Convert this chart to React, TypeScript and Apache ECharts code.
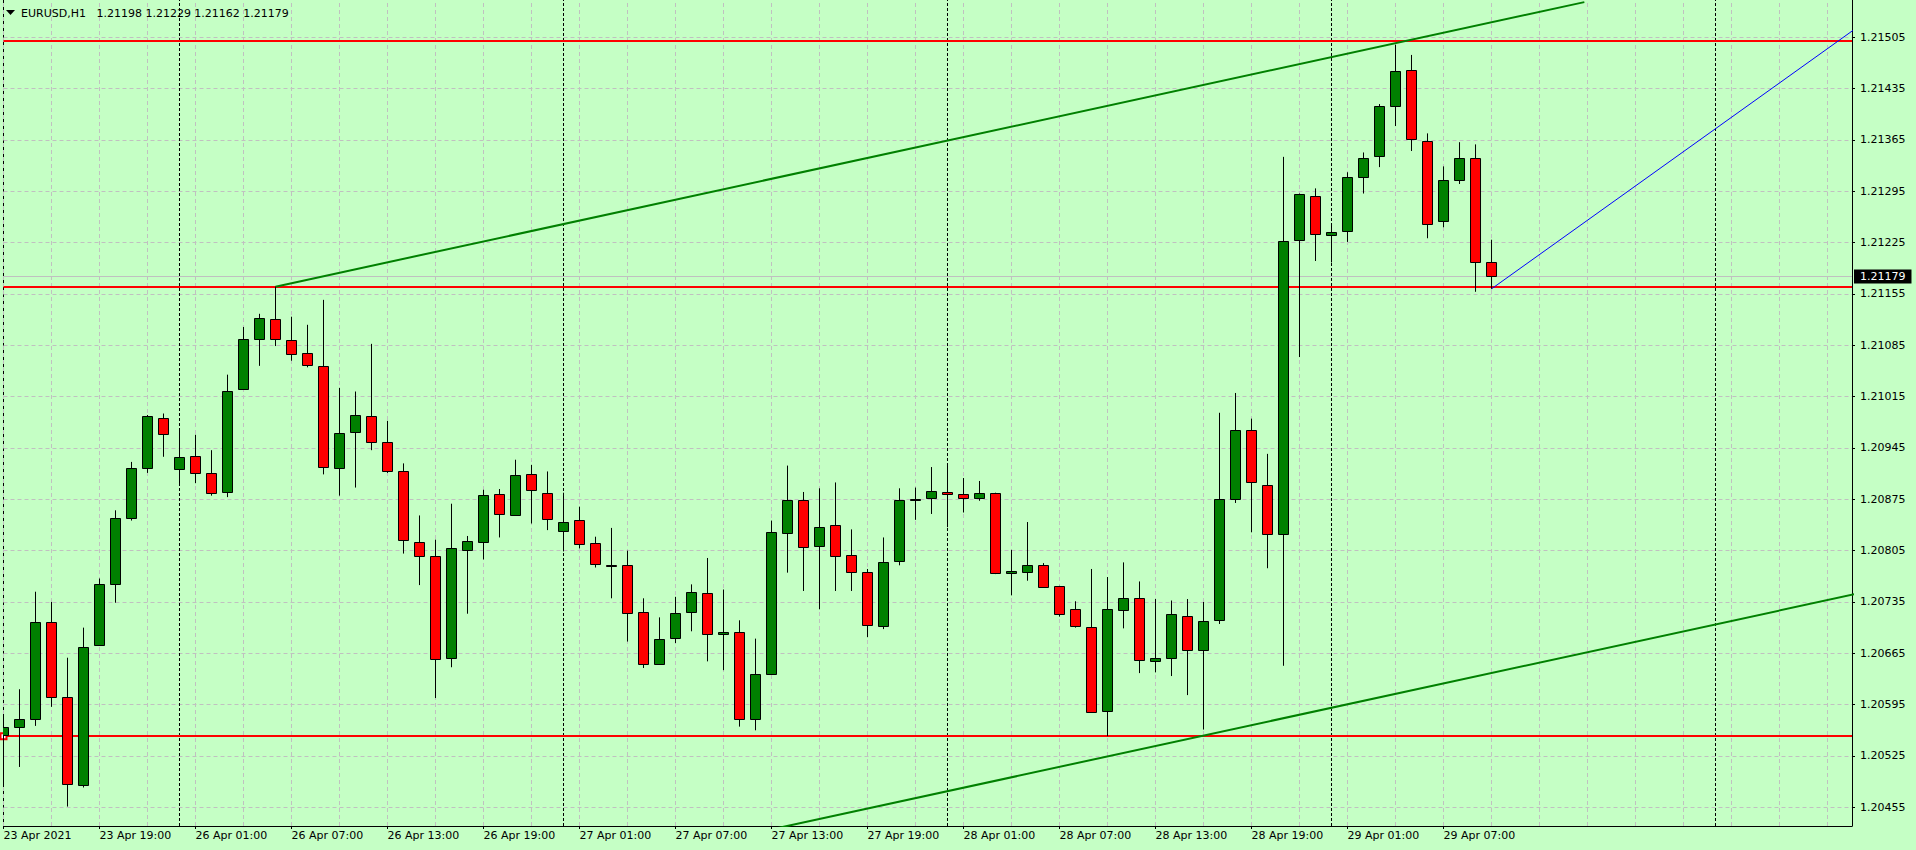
import React, { useEffect, useRef } from "react";
import * as echarts from "echarts";

// ---- Data (EURUSD H1, 23 Apr 2021 13:00 .. 29 Apr 2021 10:00) ----
const opens = [
  1.20553, 1.20565, 1.20576, 1.20708, 1.20606, 1.20486, 1.20677, 1.20760, 1.20850, 1.20918,
  1.20986, 1.20916, 1.20934, 1.20911, 1.20885, 1.21025, 1.21093, 1.21121, 1.21092, 1.21075,
  1.21057, 1.20918, 1.20967, 1.20989, 1.20953, 1.20914, 1.20817, 1.20798, 1.20659, 1.20806,
  1.20817, 1.20882, 1.20854, 1.20910, 1.20884, 1.20832, 1.20847, 1.20815, 1.20786, 1.20785,
  1.20721, 1.20650, 1.20686, 1.20722, 1.20747, 1.20691, 1.20694, 1.20575, 1.20637, 1.20829,
  1.20874, 1.20811, 1.20840, 1.20799, 1.20776, 1.20702, 1.20791, 1.20874, 1.20877, 1.20885,
  1.20882, 1.20877, 1.20884, 1.20775, 1.20776, 1.20786, 1.20757, 1.20725, 1.20701, 1.20586,
  1.20724, 1.20741, 1.20655, 1.20659, 1.20716, 1.20670, 1.20710, 1.20876, 1.20970, 1.20895,
  1.20828, 1.21228, 1.21289, 1.21235, 1.21241, 1.21315, 1.21343, 1.21411, 1.21460, 1.21363,
  1.21254, 1.21311, 1.21340, 1.21198,
];
const highs = [
  1.20580, 1.20616, 1.20749, 1.20735, 1.20659, 1.20700, 1.20767, 1.20860, 1.20926, 1.20990,
  1.20992, 1.20972, 1.20963, 1.20942, 1.21045, 1.21110, 1.21128, 1.21165, 1.21124, 1.21113,
  1.21147, 1.21027, 1.21022, 1.21087, 1.20982, 1.20924, 1.20853, 1.20820, 1.20869, 1.20825,
  1.20888, 1.20889, 1.20929, 1.20922, 1.20913, 1.20884, 1.20865, 1.20824, 1.20836, 1.20805,
  1.20740, 1.20714, 1.20742, 1.20759, 1.20795, 1.20752, 1.20710, 1.20685, 1.20846, 1.20921,
  1.20885, 1.20890, 1.20898, 1.20834, 1.20780, 1.20823, 1.20890, 1.20891, 1.20919, 1.20923,
  1.20904, 1.20900, 1.20884, 1.20806, 1.20844, 1.20788, 1.20757, 1.20736, 1.20780, 1.20769,
  1.20789, 1.20763, 1.20739, 1.20737, 1.20739, 1.20735, 1.20993, 1.21020, 1.20985, 1.20937,
  1.21342, 1.21292, 1.21299, 1.21251, 1.21321, 1.21348, 1.21414, 1.21495, 1.21481, 1.21374,
  1.21329, 1.21362, 1.21359, 1.21229,
];
const lows = [
  1.20483, 1.20510, 1.20566, 1.20592, 1.20456, 1.20482, 1.20677, 1.20734, 1.20846, 1.20911,
  1.20933, 1.20894, 1.20897, 1.20880, 1.20878, 1.21025, 1.21057, 1.21084, 1.21064, 1.21055,
  1.20909, 1.20880, 1.20891, 1.20942, 1.20911, 1.20801, 1.20758, 1.20604, 1.20646, 1.20719,
  1.20793, 1.20823, 1.20854, 1.20842, 1.20833, 1.20804, 1.20808, 1.20782, 1.20740, 1.20681,
  1.20645, 1.20650, 1.20679, 1.20695, 1.20654, 1.20642, 1.20565, 1.20560, 1.20637, 1.20775,
  1.20750, 1.20725, 1.20750, 1.20750, 1.20687, 1.20698, 1.20785, 1.20847, 1.20855, 1.20837,
  1.20857, 1.20873, 1.20773, 1.20744, 1.20764, 1.20755, 1.20715, 1.20700, 1.20585, 1.20552,
  1.20699, 1.20638, 1.20639, 1.20634, 1.20608, 1.20561, 1.20705, 1.20870, 1.20830, 1.20781,
  1.20648, 1.21069, 1.21200, 1.21198, 1.21226, 1.21292, 1.21328, 1.21384, 1.21350, 1.21231,
  1.21246, 1.21305, 1.21158, 1.21162,
];
const closes = [
  1.20564, 1.20575, 1.20708, 1.20606, 1.20487, 1.20674, 1.20759, 1.20850, 1.20918, 1.20989,
  1.20964, 1.20933, 1.20911, 1.20883, 1.21023, 1.21094, 1.21122, 1.21093, 1.21073, 1.21058,
  1.20919, 1.20965, 1.20990, 1.20953, 1.20914, 1.20820, 1.20798, 1.20657, 1.20809, 1.20818,
  1.20881, 1.20855, 1.20908, 1.20888, 1.20848, 1.20844, 1.20814, 1.20787, 1.20785, 1.20720,
  1.20650, 1.20685, 1.20720, 1.20749, 1.20691, 1.20694, 1.20575, 1.20637, 1.20830, 1.20874,
  1.20810, 1.20837, 1.20798, 1.20776, 1.20704, 1.20790, 1.20874, 1.20876, 1.20887, 1.20882,
  1.20877, 1.20884, 1.20775, 1.20777, 1.20786, 1.20755, 1.20719, 1.20702, 1.20585, 1.20725,
  1.20741, 1.20656, 1.20659, 1.20718, 1.20670, 1.20709, 1.20876, 1.20970, 1.20898, 1.20828,
  1.21227, 1.21291, 1.21237, 1.21240, 1.21315, 1.21340, 1.21412, 1.21459, 1.21366, 1.21251,
  1.21311, 1.21340, 1.21199, 1.21179,
];

const timeLabelIndex = [0, 6, 12, 18, 24, 30, 36, 42, 48, 54, 60, 66, 72, 78, 84, 90];
const timeLabels = [
  "23 Apr 2021", "23 Apr 19:00", "26 Apr 01:00", "26 Apr 07:00", "26 Apr 13:00",
  "26 Apr 19:00", "27 Apr 01:00", "27 Apr 07:00", "27 Apr 13:00", "27 Apr 19:00",
  "28 Apr 01:00", "28 Apr 07:00", "28 Apr 13:00", "28 Apr 19:00", "29 Apr 01:00",
  "29 Apr 07:00",
];
const priceTicks = [
  1.20455, 1.20525, 1.20595, 1.20665, 1.20735, 1.20805, 1.20875, 1.20945,
  1.21015, 1.21085, 1.21155, 1.21225, 1.21295, 1.21365, 1.21435, 1.21505,
];
const gridColumns = [
  0, 3, 6, 9, 12, 15, 18, 21, 24, 27, 30, 33, 36, 39, 42, 45, 48, 51, 54, 57,
  60, 63, 66, 69, 72, 75, 78, 81, 84, 87, 90, 93, 96, 99, 102, 105, 108, 111, 114,
];
const daySeparators = [11, 35, 59, 83, 107];
const redLevels = [1.215, 1.21165];
const selectedLevel = 1.20552;
const bidPrice = 1.21179;
const upperChannel = [[17, 1.21165], [98.8, 1.21553]];
const lowerChannel = [[40, 1.20387], [120, 1.20766]];
const projection = [[93, 1.21162], [118, 1.21552]];
const titleText = "EURUSD,H1\u00A0\u00A0 1.21198 1.21229 1.21162 1.21179";

const X_MIN = 0;
const X_MAX = 115.53;
const Y_MIN = 1.204295;
const Y_MAX = 1.215559;

const BG = "#C5FFC5";
const GRID = "#C0C0C0";
const FONT = '"DejaVu Sans", Tahoma, sans-serif';

const candleRows = opens.map((o, i) => [i, o, closes[i], lows[i], highs[i]]);

function renderCandle(params: any, api: any) {
  const x = api.value(0);
  const o = api.value(1);
  const c = api.value(2);
  const l = api.value(3);
  const h = api.value(4);
  const pO = api.coord([x, o]);
  const pC = api.coord([x, c]);
  const pL = api.coord([x, l]);
  const pH = api.coord([x, h]);
  const cx = pO[0];
  const top = Math.round(Math.min(pO[1], pC[1])) + 0.5;
  const bot = Math.round(Math.max(pO[1], pC[1])) + 0.5;
  return {
    type: "group",
    children: [
      {
        type: "line",
        shape: { x1: cx, y1: pH[1], x2: cx, y2: pL[1] },
        style: { stroke: "#000", lineWidth: 1 },
      },
      {
        type: "rect",
        shape: { x: cx - 5, y: top, width: 10, height: Math.max(bot - top, 1) },
        style: { fill: c >= o ? "#008000" : "#FF0000", stroke: "#000", lineWidth: 1 },
      },
    ],
  };
}

export default function App() {
  const ref = useRef<HTMLDivElement>(null);

  useEffect(() => {
    if (!ref.current) return;
    const chart = echarts.init(ref.current, undefined, { renderer: "svg" });
    const textStyle = { color: "#000", fontSize: 11, fontFamily: FONT };
    const option: any = {
      animation: false,
      backgroundColor: BG,
      grid: { left: 3.5, right: 64, top: 0, bottom: 24 },
      graphic: [
        {
          type: "polygon",
          shape: { points: [[6, 10], [15, 10], [10.5, 15]] },
          style: { fill: "#000" },
          z: 100,
        },
        {
          type: "text",
          x: 21,
          y: 13,
          style: {
            text: titleText,
            fill: "#000",
            fontSize: 11,
            fontFamily: FONT,
            verticalAlign: "middle",
          },
          z: 100,
        },
      ],
      xAxis: [
        {
          type: "value",
          min: X_MIN,
          max: X_MAX,
          axisLine: { show: true, onZero: false, lineStyle: { color: "#000", width: 1 } },
          axisTick: {
            show: true,
            length: 3,
            customValues: timeLabelIndex,
            lineStyle: { color: "#000" },
          },
          axisLabel: {
            ...textStyle,
            customValues: timeLabelIndex,
            align: "left",
            margin: 4,
            formatter: (v: number) => {
              const k = timeLabelIndex.indexOf(Math.round(v));
              return k >= 0 ? timeLabels[k] : "";
            },
          },
          splitLine: { show: false },
        },
      ],
      yAxis: [
        {
          type: "value",
          position: "right",
          min: Y_MIN,
          max: Y_MAX,
          axisLine: { show: true, onZero: false, lineStyle: { color: "#000", width: 1 } },
          axisTick: {
            show: true,
            length: 3,
            customValues: priceTicks,
            lineStyle: { color: "#000" },
          },
          axisLabel: {
            ...textStyle,
            customValues: priceTicks,
            margin: 8,
            formatter: (v: number) => v.toFixed(5),
          },
          splitLine: { show: false },
        },
        {
          type: "value",
          position: "left",
          min: Y_MIN,
          max: Y_MAX,
          axisLine: { show: true, onZero: false, lineStyle: { color: "#000", width: 1 } },
          axisTick: { show: false },
          axisLabel: { show: false },
          splitLine: { show: false },
        },
      ],
      series: [
        {
          type: "line",
          name: "grid",
          data: [],
          clip: false,
          silent: true,
          z: 1,
          markLine: {
            silent: true,
            animation: false,
            precision: 6,
            z: 1,
            symbol: ["none", "none"],
            label: { show: false },
            lineStyle: { color: GRID, width: 1, type: [4, 3] },
            data: [
              ...priceTicks.map((v) => ({ yAxis: v })),
              ...gridColumns.map((v) => ({ xAxis: v })),
            ],
          },
        },
        {
          type: "line",
          name: "days",
          data: [],
          clip: false,
          silent: true,
          z: 2,
          markLine: {
            silent: true,
            animation: false,
            precision: 6,
            z: 2,
            symbol: ["none", "none"],
            label: { show: false },
            lineStyle: { color: "#000", width: 1, type: [3, 2] },
            data: daySeparators.map((v) => ({ xAxis: v })),
          },
        },
        {
          type: "line",
          name: "levels",
          data: [],
          clip: false,
          silent: true,
          z: 3,
          markLine: {
            silent: true,
            animation: false,
            precision: 6,
            z: 3,
            symbol: ["none", "none"],
            label: { show: false },
            data: [
              {
                yAxis: bidPrice,
                lineStyle: { color: "#C0C0C0", width: 1, type: "solid" },
                label: {
                  show: true,
                  position: "end",
                  formatter: bidPrice.toFixed(5),
                  color: "#fff",
                  backgroundColor: "#000",
                  padding: [2, 6, 1, 6],
                  lineHeight: 11,
                  fontSize: 11,
                  fontFamily: FONT,
                  distance: 2,
                },
              },
              ...redLevels.map((v) => ({
                yAxis: v,
                lineStyle: { color: "#FF0000", width: 2, type: "solid" },
              })),
              {
                yAxis: selectedLevel,
                symbol: "emptyRect",
                symbolSize: 6,
                lineStyle: { color: "#FF0000", width: 2, type: "solid" },
              },
            ],
          },
        },
        {
          type: "line",
          name: "upper",
          data: upperChannel,
          symbol: "none",
          silent: true,
          z: 4,
          lineStyle: { color: "#008000", width: 2 },
        },
        {
          type: "line",
          name: "lower",
          data: lowerChannel,
          symbol: "none",
          silent: true,
          z: 4,
          lineStyle: { color: "#008000", width: 2 },
        },
        {
          type: "line",
          name: "projection",
          data: projection,
          symbol: "none",
          silent: true,
          z: 4,
          lineStyle: { color: "#0000FF", width: 1 },
        },
        {
          type: "custom",
          name: "EURUSD",
          data: candleRows,
          renderItem: renderCandle,
          encode: { x: 0, y: [1, 2, 3, 4] },
          clip: true,
          silent: true,
          z: 10,
        },
      ],
    };
    chart.setOption(option);
    return () => chart.dispose();
  }, []);

  return (
    <div
      ref={ref}
      style={{ position: "fixed", left: 0, top: 0, width: 1916, height: 850 }}
    />
  );
}
